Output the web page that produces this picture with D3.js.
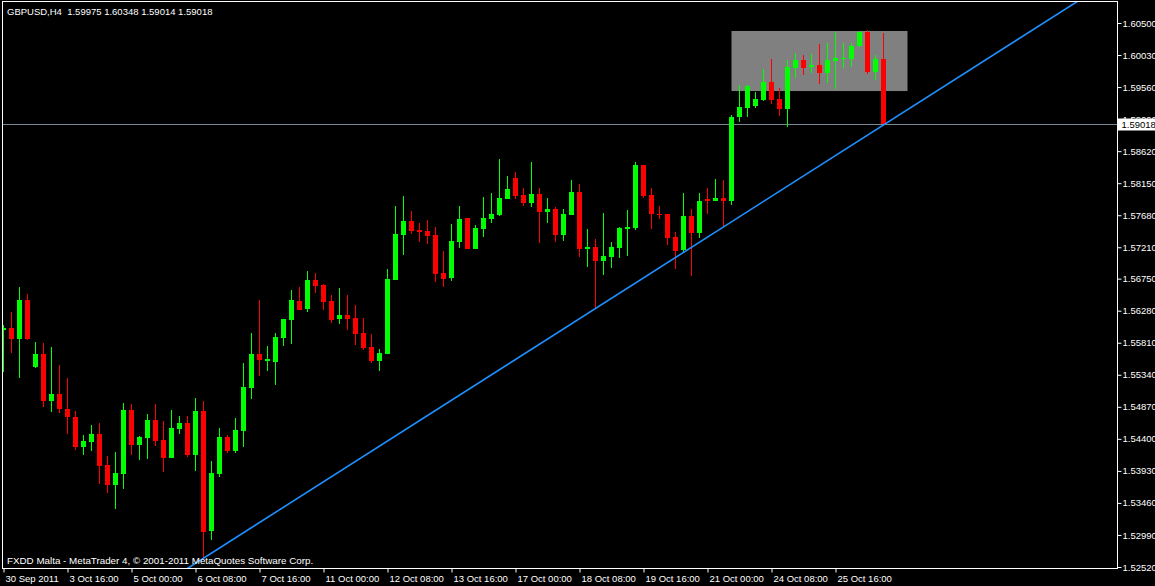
<!DOCTYPE html>
<html><head><meta charset="utf-8">
<script src="https://cdn.jsdelivr.net/npm/d3@7"></script>
<style>
html,body{margin:0;padding:0;background:#000;}
svg{display:block;}
text{font-family:"Liberation Sans",Arial,sans-serif;font-size:10px;fill:#fff;}
</style></head><body>
<svg id="chart" width="1155" height="586"></svg>
<script>
// ---------- data ----------
const symbolTitle = "GBPUSD,H4  1.59975 1.60348 1.59014 1.59018";
const footerText = "FXDD Malta - MetaTrader 4, \u00A9 2001-2011 MetaQuotes Software Corp.";

const opens = [
1.55997,1.56026,1.55865,1.56437,1.55454,1.55645,1.54955,1.55058,1.54838,1.54720,
1.54280,1.54354,1.54471,1.54016,1.53723,1.53884,1.54823,1.54310,1.54412,1.54676,
1.54383,1.54119,1.54544,1.54632,1.54163,1.54808,1.53048,1.53884,1.54427,1.54222,
1.54515,1.55146,1.55645,1.55542,1.55527,1.55879,1.56143,1.56422,1.56305,1.56730,
1.56657,1.56422,1.56158,1.56217,1.56173,1.55953,1.55747,1.55542,1.55645,1.56730,
1.57390,1.57595,1.57463,1.57449,1.57390,1.56833,1.56759,1.57287,1.57640,1.57185,
1.57478,1.57625,1.57683,1.57918,1.58226,1.57977,1.57860,1.57992,1.57727,1.57772,
1.57390,1.57683,1.58021,1.57185,1.57214,1.57009,1.57067,1.57199,1.57478,1.57493,
1.58417,1.57977,1.57698,1.57698,1.57361,1.57170,1.57669,1.57419,1.57918,1.57889,
1.57933,1.57889,1.59121,1.59253,1.59282,1.59370,1.59634,1.59385,1.59238,1.59840,
1.59957,1.59854,1.59884,1.59767,1.59943,1.59972,1.59972,1.60163,1.60368,1.59781,
1.59975];
const highs = [
1.56070,1.56261,1.56627,1.56525,1.55821,1.55806,1.55747,1.55483,1.55292,1.54808,
1.54456,1.54603,1.54632,1.54148,1.54207,1.54926,1.54911,1.54442,1.54764,1.54911,
1.54662,1.54823,1.54735,1.54735,1.54999,1.54955,1.54075,1.54559,1.54456,1.54706,
1.55512,1.55953,1.56437,1.55762,1.55953,1.56158,1.56583,1.56627,1.56862,1.56833,
1.56671,1.56510,1.56613,1.56510,1.56363,1.56173,1.55938,1.55718,1.56891,1.57816,
1.57962,1.57742,1.57566,1.57610,1.57507,1.57155,1.57551,1.57816,1.57640,1.57537,
1.57948,1.58006,1.58505,1.58256,1.58314,1.58080,1.58461,1.58080,1.57933,1.57801,
1.57772,1.58197,1.58138,1.57478,1.57331,1.57713,1.57287,1.57507,1.57757,1.58461,
1.58417,1.58080,1.57816,1.57698,1.57434,1.58006,1.57772,1.58006,1.58080,1.58212,
1.58197,1.59150,1.59590,1.59590,1.59488,1.59825,1.59972,1.59546,1.59957,1.60060,
1.60031,1.60045,1.60192,1.60207,1.60368,1.60207,1.60207,1.60383,1.60397,1.60031,
1.60348];
const lows = [
1.55380,1.55659,1.55292,1.55850,1.55439,1.54867,1.54794,1.54779,1.54471,1.54236,
1.54163,1.54222,1.53738,1.53605,1.53371,1.53664,1.54163,1.54090,1.54104,1.54295,
1.53914,1.54119,1.54471,1.54134,1.53928,1.52623,1.52916,1.53840,1.54192,1.54192,
1.54280,1.54984,1.55322,1.55395,1.55190,1.55762,1.55791,1.56290,1.56261,1.56539,
1.56290,1.56099,1.56085,1.55997,1.55776,1.55703,1.55512,1.55395,1.55645,1.56730,
1.57097,1.57405,1.57287,1.57258,1.56701,1.56627,1.56715,1.57199,1.57185,1.57185,
1.57361,1.57566,1.57669,1.57918,1.57918,1.57816,1.57801,1.57273,1.57566,1.57287,
1.57302,1.57683,1.57067,1.56921,1.56319,1.56803,1.56906,1.57053,1.57082,1.57463,
1.57933,1.57478,1.57625,1.57243,1.56891,1.57141,1.56789,1.57346,1.57698,1.57889,
1.57507,1.57830,1.59048,1.59121,1.59253,1.59356,1.59312,1.59136,1.58974,1.59693,
1.59737,1.59767,1.59605,1.59620,1.59532,1.59840,1.59854,1.60148,1.59752,1.59664,
1.59014];
const closes = [
1.56026,1.55865,1.56437,1.55865,1.55645,1.54955,1.55058,1.54838,1.54720,1.54280,
1.54368,1.54471,1.54002,1.53723,1.53899,1.54823,1.54310,1.54427,1.54676,1.54368,
1.54119,1.54559,1.54632,1.54163,1.54808,1.53033,1.53899,1.54427,1.54222,1.54530,
1.55160,1.55645,1.55557,1.55571,1.55894,1.56158,1.56437,1.56290,1.56730,1.56642,
1.56407,1.56143,1.56217,1.56158,1.55938,1.55732,1.55542,1.55659,1.56745,1.57405,
1.57595,1.57449,1.57434,1.57375,1.56818,1.56745,1.57302,1.57625,1.57185,1.57493,
1.57640,1.57698,1.57933,1.58065,1.57962,1.57860,1.57992,1.57727,1.57772,1.57390,
1.57698,1.58021,1.57185,1.57214,1.57009,1.57082,1.57214,1.57493,1.57507,1.58417,
1.57962,1.57698,1.57683,1.57346,1.57155,1.57669,1.57419,1.57889,1.57889,1.57933,
1.57889,1.59121,1.59268,1.59576,1.59385,1.59634,1.59370,1.59238,1.59854,1.59957,
1.59840,1.59884,1.59767,1.59957,1.59987,1.59987,1.60163,1.60368,1.59781,1.59972,
1.59018];

const timeLabels = ["30 Sep 2011","3 Oct 16:00","5 Oct 00:00","6 Oct 08:00","7 Oct 16:00",
  "11 Oct 00:00","12 Oct 08:00","13 Oct 16:00","17 Oct 00:00","18 Oct 08:00",
  "19 Oct 16:00","21 Oct 00:00","24 Oct 08:00","25 Oct 16:00"];
const barsPerLabel = 8;
const priceTicks = [1.60500,1.60030,1.59560,1.59090,1.58620,1.58150,1.57680,1.57210,1.56750,
  1.56280,1.55810,1.55340,1.54870,1.54400,1.53930,1.53460,1.52990,1.52520];
const lastPrice = 1.59018;
const trendBars = [25, 110];
const trendPrices = [1.52649, 1.59004];
const boxBars = [91, 113];
const boxPrices = [1.60383, 1.59502];

// ---------- layout ----------
const W = 1155, H = 586;
const plotLeft = 2.5, plotTop = 1.5, plotRight = 1117.5, plotBottom = 568.5;
const FONT = "'Liberation Sans',Arial,sans-serif";
const svg = d3.select("#chart");

const x = d3.scaleLinear().domain([0, 110]).range([3.5, 883.5]);
const y = d3.scaleLinear().domain([1.52520, 1.60500]).range([567, 23]);
const step = x(1) - x(0);
const bodyW = step * 0.625;

svg.append("rect").attr("width", W).attr("height", H).attr("fill", "#000");

svg.append("defs").append("clipPath").attr("id", "plotclip")
  .append("rect").attr("x", 3).attr("y", 2).attr("width", plotRight - 3.5).attr("height", plotBottom - 2.5);

const plot = svg.append("g").attr("clip-path", "url(#plotclip)");

// gray rectangle object
plot.append("rect")
  .attr("x", x(boxBars[0])).attr("width", x(boxBars[1]) - x(boxBars[0]))
  .attr("y", y(boxPrices[0])).attr("height", y(boxPrices[1]) - y(boxPrices[0]))
  .attr("fill", "#808080");

// bid line
const yb = Math.round(y(lastPrice)) + 0.5;
plot.append("line").attr("x1", plotLeft).attr("x2", plotRight).attr("y1", yb).attr("y2", yb)
  .attr("stroke", "#778899").attr("stroke-width", 1);

// candles
const bars = d3.range(opens.length).map(i => ({i, o: opens[i], h: highs[i], l: lows[i], c: closes[i]}));
const cg = plot.append("g").attr("shape-rendering", "crispEdges");
const col = d => d.c >= d.o ? "#00ff00" : "#ff0000";
cg.selectAll("line.wick").data(bars).join("line").attr("class", "wick")
  .attr("x1", d => x(d.i)).attr("x2", d => x(d.i))
  .attr("y1", d => y(d.h)).attr("y2", d => y(d.l))
  .attr("stroke", col).attr("stroke-width", 1);
cg.selectAll("rect.body").data(bars).join("rect").attr("class", "body")
  .attr("x", d => x(d.i) - bodyW / 2).attr("width", bodyW)
  .attr("y", d => y(Math.max(d.o, d.c)))
  .attr("height", d => Math.max(1, Math.abs(y(d.o) - y(d.c))))
  .attr("fill", col);

// trend line extended across the plot
const slope = (y(trendPrices[1]) - y(trendPrices[0])) / (x(trendBars[1]) - x(trendBars[0]));
const x0 = x(trendBars[0]), y0 = y(trendPrices[0]);
plot.append("line")
  .attr("x1", 0).attr("y1", y0 + slope * (0 - x0))
  .attr("x2", plotRight).attr("y2", y0 + slope * (plotRight - x0))
  .attr("stroke", "#1e90ff").attr("stroke-width", 1.6);

// frame
svg.append("rect").attr("x", plotLeft).attr("y", plotTop)
  .attr("width", plotRight - plotLeft).attr("height", plotBottom - plotTop)
  .attr("fill", "none").attr("stroke", "#fff").attr("shape-rendering", "crispEdges");

// x axis
const tickBars = timeLabels.map((_, k) => k * barsPerLabel);
const xAxis = svg.append("g").attr("transform", `translate(0,${plotBottom})`)
  .attr("color", "#fff")
  .call(d3.axisBottom(x).tickValues(tickBars).tickFormat((d, k) => timeLabels[k]).tickSize(4).tickPadding(3));
xAxis.select(".domain").remove();
xAxis.selectAll("text").attr("text-anchor", "start").attr("dx", 1.5)
  .attr("fill", "#fff").style("font-size", "9.5px").style("font-family", FONT);

// y axis
const yAxis = svg.append("g").attr("transform", `translate(${plotRight},0)`)
  .attr("color", "#fff")
  .call(d3.axisRight(y).tickValues(priceTicks).tickFormat(d3.format(".5f")).tickSize(4).tickPadding(1));
yAxis.select(".domain").remove();
yAxis.selectAll("text").attr("fill", "#fff").style("font-size", "9.5px").style("font-family", FONT);

// current price label
svg.append("rect").attr("x", plotRight + 0.5).attr("y", yb - 6).attr("width", W - plotRight).attr("height", 12)
  .attr("fill", "#fff");
svg.append("text").attr("x", plotRight + 4).attr("y", yb).attr("dy", "0.35em")
  .style("fill", "#000").style("font-size", "9.5px").text(d3.format(".5f")(lastPrice));

// title & footer
svg.append("text").attr("x", 7).attr("y", 14.5).attr("xml:space", "preserve")
  .style("white-space", "pre").style("font-size", "9.5px").text(symbolTitle);
svg.append("text").attr("x", 7).attr("y", 564).style("font-size", "9.8px").text(footerText);
</script>
</body></html>
